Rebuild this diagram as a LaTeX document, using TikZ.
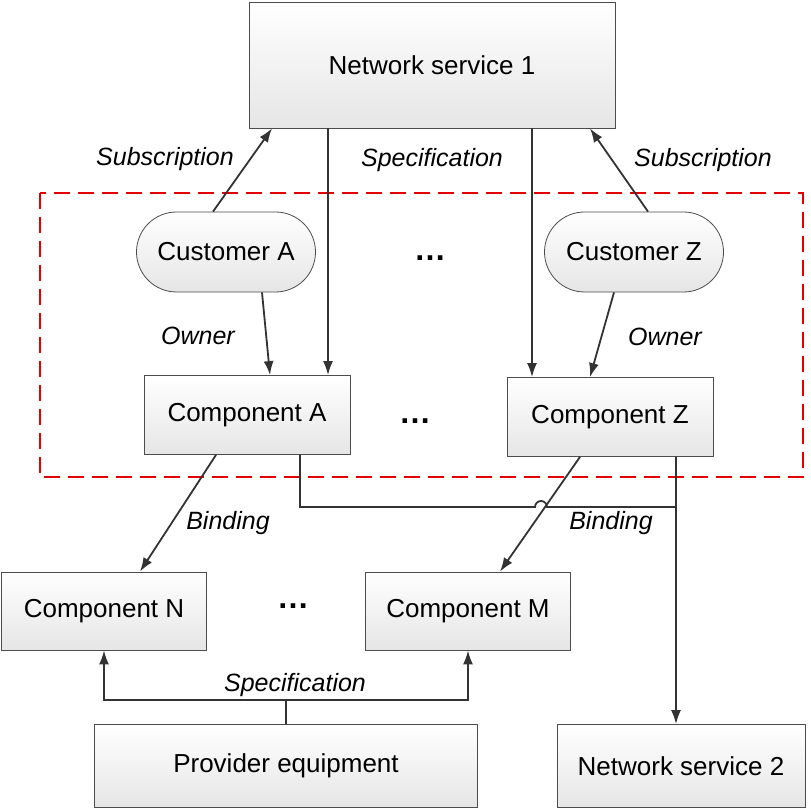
\documentclass[tikz,border=0pt]{standalone}
\usepackage{fontspec}
\setmainfont{Liberation Sans}
\usetikzlibrary{arrows.meta}
\tikzset{
  box/.style={draw=black!70, top color=white, bottom color=black!10, font=\fontsize{13}{15}\selectfont, inner sep=0pt},
  pill/.style={box, rounded corners=20pt},
  lbl/.style={font=\fontsize{12.5}{15}\selectfont\itshape},
  dotsty/.style={font=\fontsize{16}{15}\selectfont\bfseries},
  arr/.style={-{Latex[length=7pt,width=5pt]}, black!80, line width=0.9pt},
  ln/.style={black!80, line width=0.9pt},
}
\begin{document}
\begin{tikzpicture}[x=0.5pt, y=-0.5pt]
    \useasboundingbox (0,0) rectangle (810,812);

    % frame of the customers
    \draw[red!90!black, line width=1pt, dash pattern=on 8pt off 4pt] (40,193) rectangle (803,477);

    \node[box, minimum width=183pt, minimum height=63pt] (ns1) at (432,65) {Network service 1};
    \node[pill, minimum width=89.5pt, minimum height=40pt] (custA) at (226,252) {Customer A};
    \node[pill, minimum width=89.5pt, minimum height=40pt] (custZ) at (634,252) {Customer Z};
    \node[box, minimum width=103pt, minimum height=39.5pt] (compA) at (247,415) {Component A};
    \node[box, minimum width=103pt, minimum height=39.5pt] (compZ) at (610,417) {Component Z};
    \node[box, minimum width=102.5pt, minimum height=39pt] (compN) at (104,611) {Component N};
    \node[box, minimum width=102.5pt, minimum height=39pt] (compM) at (468,611) {Component M};
    \node[box, minimum width=191.5pt, minimum height=41.5pt] (prov) at (286,766) {Provider equipment};
    \node[box, minimum width=124pt, minimum height=41.5pt] (ns2) at (681,766) {Network service 2};

    \node[dotsty] (dots1) at (430,258) {\ldots};
    \node[dotsty] (dots2) at (415,421) {\ldots};
    \node[dotsty] (dots3) at (293,606) {\ldots};

    \draw[arr] ([xshift=-6.5pt]custA.north) -- ([xshift=-80pt]ns1.south);
    \draw[arr] ([xshift=7pt]custZ.north) -- ([xshift=79pt]ns1.south);
    \draw[arr] ([xshift=-52pt]ns1.south) -- ([xshift=-52pt]ns1.south |- compA.north);
    \draw[arr] ([xshift=50pt]ns1.south) -- ([xshift=50pt]ns1.south |- compZ.north);
    \draw[arr] ([xshift=18pt]custA.south) -- ([xshift=11.5pt]compA.north);
    \draw[arr] ([xshift=-10pt]custZ.south) -- ([xshift=-10pt]compZ.north);
    \draw[arr] ([xshift=-15.5pt]compA.south) -- ([xshift=18pt]compN.north);
    \draw[arr] ([xshift=-15pt]compZ.south) -- ([xshift=16pt]compM.north);

    \coordinate (bus) at (676,507);
    \coordinate (hop) at (535,507);
    \draw[ln] ([xshift=26.5pt]compA.south) |- (hop) arc(180:0:3pt) -- (bus);
    \draw[arr] ([xshift=33pt]compZ.south) -- ([xshift=33pt]compZ.south |- ns2.north);

    \coordinate (pj) at (286,700);
    \draw[ln] (prov.north) -- (pj);
    \draw[arr] (pj) -| (compN.south);
    \draw[arr] (pj) -| (compM.south);

    \node[lbl] (l1) at (165,159) {Subscription};
    \node[lbl] (l2) at (432,160) {Specification};
    \node[lbl] (l3) at (703,160) {Subscription};
    \node[lbl] (l4) at (198,336) {Owner};
    \node[lbl] (l5) at (665,337) {Owner};
    \node[lbl] (l6) at (228,523) {Binding};
    \node[lbl] (l7) at (611,523) {Binding};
    \node[lbl] (l8) at (295,685) {Specification};
\end{tikzpicture}
\end{document}
